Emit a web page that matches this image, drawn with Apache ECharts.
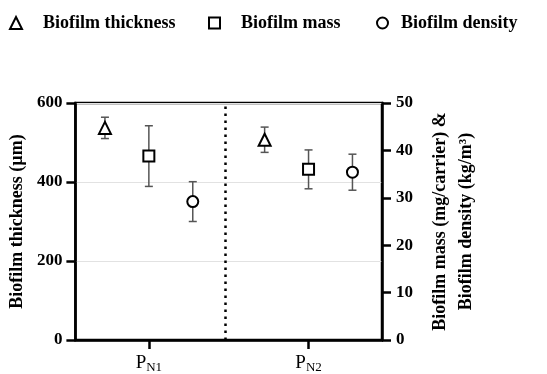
<!DOCTYPE html>
<html>
<head>
<meta charset="utf-8">
<script src="https://cdn.jsdelivr.net/npm/echarts@6/dist/echarts.min.js"></script>
<style>
  html, body { margin: 0; padding: 0; background: #fff; }
  #chart { width: 547px; height: 374px; }
</style>
</head>
<body>
<div id="chart"></div>
<script>
// groups on the x axis (P subscript)
const categories = ["N1", "N2"];
const groupX = [0, 1];

// left axis (µm)
const thickness = [537, 507];
const thicknessErr = [27, 32];

// right axis
const mass = [38.8, 36.0];
const massErr = [6.4, 4.1];
const density = [29.2, 35.4];
const densityErr = [4.2, 3.8];

const leftTicks = [0, 200, 400, 600];
const rightTicks = [0, 10, 20, 30, 40, 50];

const FONT = "'Liberation Serif', 'Times New Roman', serif";
const offsets = [-0.275, 0, 0.275];

const chart = echarts.init(document.getElementById("chart"));

function pts(vals, errs, k) {
  return vals.map((v, i) => [groupX[i] + offsets[k], v, errs[i]]);
}

function errBars(yIdx, data) {
  return {
    type: "custom",
    yAxisIndex: yIdx,
    silent: true,
    z: 1,
    data: data,
    encode: { x: 0, y: 1 },
    renderItem: (params, api) => {
      const x = api.value(0), y = api.value(1), e = api.value(2);
      const hi = api.coord([x, y + e]);
      const lo = api.coord([x, y - e]);
      const w = 4;
      const style = { stroke: "#555", lineWidth: 1.5 };
      return {
        type: "group",
        children: [
          { type: "line", shape: { x1: hi[0], y1: hi[1], x2: lo[0], y2: lo[1] }, style },
          { type: "line", shape: { x1: hi[0] - w, y1: hi[1], x2: hi[0] + w, y2: hi[1] }, style },
          { type: "line", shape: { x1: lo[0] - w, y1: lo[1], x2: lo[0] + w, y2: lo[1] }, style },
        ],
      };
    },
  };
}

const markerStyle = { color: "#fff", borderColor: "#000", borderWidth: 2, opacity: 1 };
const legendText = (pad) => ({
  fontFamily: FONT, fontWeight: "bold", fontSize: 18, color: "#000",
  rich: { t: { fontFamily: FONT, fontWeight: "bold", fontSize: 18, color: "#000", padding: [0, 0, 0, pad] } },
});
const legendBase = { top: 14, padding: 0, itemWidth: 11, itemHeight: 11, formatter: "{t|{name}}" };

const option = {
  animation: false,
  backgroundColor: "#fff",
  legend: [
    Object.assign({ data: ["Biofilm thickness"], left: 9, itemWidth: 12, itemHeight: 12, textStyle: legendText(16) }, { top: 14, padding: 0, formatter: "{t|{name}}" }),
    Object.assign({ data: ["Biofilm mass"], left: 208, textStyle: legendText(16) }, legendBase),
    Object.assign({ data: ["Biofilm density"], left: 376, textStyle: legendText(8) }, legendBase),
  ],
  grid: {
    left: 75, right: 165, top: 103, bottom: 34,
    show: true, borderColor: "#000", borderWidth: 2.5,
  },
  xAxis: {
    type: "value",
    min: -0.46,
    max: 1.46,
    splitLine: { show: false },
    axisLine: { onZero: false, lineStyle: { color: "#000", width: 2.5 } },
    axisTick: { show: true, customValues: groupX, length: 9, lineStyle: { color: "#000", width: 2.5 } },
    axisLabel: {
      customValues: groupX,
      margin: 12,
      formatter: (v) => "{p|P}{s|" + categories[Math.round(v)] + "}",
      rich: {
        p: { fontFamily: FONT, fontSize: 19, color: "#000", lineHeight: 22, verticalAlign: "middle" },
        s: { fontFamily: FONT, fontSize: 13, color: "#000", lineHeight: 22, verticalAlign: "bottom" },
      },
    },
  },
  yAxis: [
    {
      type: "value",
      min: leftTicks[0],
      max: leftTicks[leftTicks.length - 1],
      interval: leftTicks[1] - leftTicks[0],
      name: "Biofilm thickness (µm)",
      nameLocation: "middle",
      nameGap: 48,
      nameTextStyle: { fontFamily: FONT, fontWeight: "bold", fontSize: 18, color: "#000" },
      axisLine: { show: true, onZero: false, lineStyle: { color: "#000", width: 2.5 } },
      axisTick: { show: true, length: 9, lineStyle: { color: "#000", width: 2.5 } },
      axisLabel: { fontFamily: FONT, fontWeight: "bold", fontSize: 17, color: "#000", margin: 13 },
      splitLine: { show: true, lineStyle: { color: "#e2e2e2", width: 1 } },
    },
    {
      type: "value",
      position: "right",
      min: rightTicks[0],
      max: rightTicks[rightTicks.length - 1],
      interval: rightTicks[1] - rightTicks[0],
      name: "Biofilm mass (mg/carrier) &\nBiofilm density (kg/m³)",
      nameLocation: "middle",
      nameGap: 45,
      nameTextStyle: { fontFamily: FONT, fontWeight: "bold", fontSize: 18, color: "#000", lineHeight: 26 },
      axisLine: { show: true, onZero: false, lineStyle: { color: "#000", width: 2.5 } },
      axisTick: { show: true, length: 9, lineStyle: { color: "#000", width: 2.5 } },
      axisLabel: { fontFamily: FONT, fontWeight: "bold", fontSize: 17, color: "#000", margin: 14 },
      splitLine: { show: false },
    },
  ],
  series: [
    errBars(0, pts(thickness, thicknessErr, 0)),
    errBars(1, pts(mass, massErr, 1)),
    errBars(1, pts(density, densityErr, 2)),
    {
      name: "Biofilm thickness",
      type: "scatter",
      yAxisIndex: 0,
      symbol: "triangle",
      symbolSize: 12,
      itemStyle: markerStyle,
      z: 3,
      data: pts(thickness, thicknessErr, 0),
      markLine: {
        silent: true,
        symbol: "none",
        label: { show: false },
        lineStyle: { color: "#000", width: 2.5, type: [2.5, 4.5] },
        data: [{ xAxis: 0.485 }],
      },
    },
    {
      name: "Biofilm mass",
      type: "scatter",
      yAxisIndex: 1,
      symbol: "rect",
      symbolSize: 11,
      itemStyle: markerStyle,
      z: 3,
      data: pts(mass, massErr, 1),
    },
    {
      name: "Biofilm density",
      type: "scatter",
      yAxisIndex: 1,
      symbol: "circle",
      symbolSize: 11,
      itemStyle: markerStyle,
      z: 3,
      data: pts(density, densityErr, 2),
    },
  ],
};

chart.setOption(option);
</script>
</body>
</html>
